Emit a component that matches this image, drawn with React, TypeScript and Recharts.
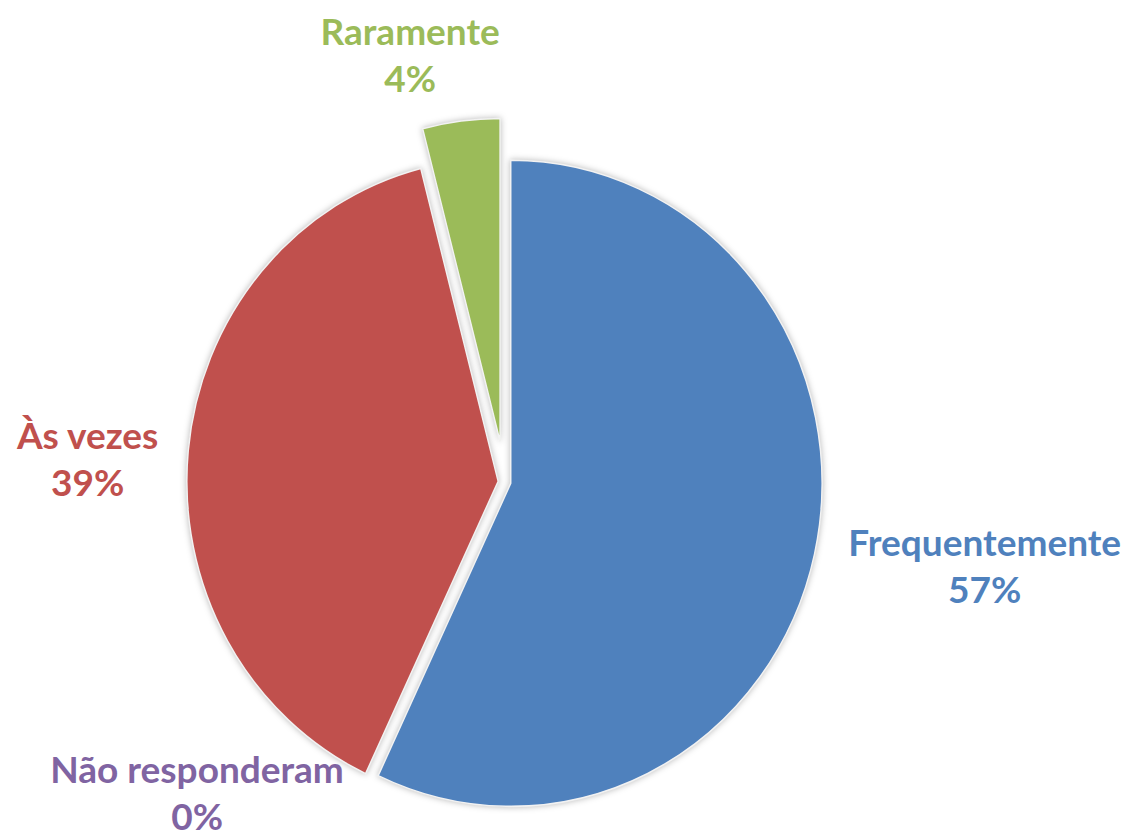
import { Cell, Pie, PieChart } from "recharts";

const categories = ["Frequentemente", "Não responderam", "Às vezes", "Raramente"];
const percentages = [57, 0, 39, 4];
const sliceColors = ["#4F81BD", "#8064A2", "#C0504D", "#9BBB59"];

const data = categories.map((name, i) => ({ name, value: percentages[i] }));

const CX = 505;
const CY = 482;
const R = 317;
const RAD = Math.PI / 180;

// how far each slice is pulled out of the pie (px)
const explode: Record<string, number> = {
  Frequentemente: 6,
  "Não responderam": 0,
  "Às vezes": 7,
  Raramente: 40,
};

// label distance from centre and angle tweak (clockwise degrees) vs slice middle
const labelPlace: Record<string, { dist: number; da: number }> = {
  Frequentemente: { dist: 487, da: -2.7 },
  "Não responderam": { dist: 437, da: 19.6 },
  "Às vezes": { dist: 418, da: -2.2 },
  Raramente: { dist: 438, da: -5.3 },
};

const total = percentages.reduce((a, b) => a + b, 0);
const midCw = percentages.map((v, i) => {
  const before = percentages.slice(0, i).reduce((a, b) => a + b, 0);
  return ((before + v / 2) / total) * 360;
});

const renderLabel = (props: any) => {
  const { name, index } = props;
  const place = labelPlace[name];
  const theta = (midCw[index] + place.da) * RAD;
  const x = CX + place.dist * Math.sin(theta);
  const y = CY - place.dist * Math.cos(theta);
  const color = sliceColors[index];
  return (
    <g key={`lbl-${index}`}>
      <text
        x={x}
        y={y - 24}
        textAnchor="middle"
        dominantBaseline="central"
        fill={color}
        fontFamily="Lato, 'Open Sans', sans-serif"
        fontWeight={700}
        fontSize={37}
      >
        {name}
      </text>
      <text
        x={x}
        y={y + 23}
        textAnchor="middle"
        dominantBaseline="central"
        fill={color}
        fontFamily="Lato, 'Open Sans', sans-serif"
        fontWeight={700}
        fontSize={37}
      >
        {`${percentages[index]}%`}
      </text>
    </g>
  );
};

export default function App() {
  // the class ends up on two nested groups, so each carries half the stretch
  return (
    <div style={{ position: "absolute", left: 0, top: 0, background: "#fff" }}>
      <style>{`
        .slice { transform-box: view-box; transform-origin: ${CX}px ${CY}px; transform: scale(0.991, 1.0095); }
        .slice path { filter: drop-shadow(0 0 3px rgba(0,0,0,0.28)); }
      `}</style>
      <PieChart width={1133} height={839} margin={{ top: 0, right: 0, bottom: 0, left: 0 }}>
        {data.map((d, i) => {
          if (d.value === 0) return null;
          const off = explode[d.name];
          const theta = midCw[i] * RAD;
          return (
            <Pie
              key={d.name}
              className="slice"
              data={data}
              dataKey="value"
              nameKey="name"
              cx={CX + off * Math.sin(theta)}
              cy={CY - off * Math.cos(theta)}
              outerRadius={R}
              startAngle={90}
              endAngle={-270}
              label={false}
              labelLine={false}
              isAnimationActive={false}
            >
              {data.map((e, j) => (
                <Cell
                  key={e.name}
                  fill={j === i ? sliceColors[j] : "transparent"}
                  stroke={j === i ? "#f2f2f2" : "none"}
                  strokeWidth={j === i ? 1.5 : 0}
                />
              ))}
            </Pie>
          );
        })}
        <Pie
          data={data}
          dataKey="value"
          nameKey="name"
          cx={CX}
          cy={CY}
          outerRadius={R}
          startAngle={90}
          endAngle={-270}
          fill="none"
          stroke="none"
          label={renderLabel}
          labelLine={false}
          isAnimationActive={false}
        />
      </PieChart>
    </div>
  );
}
